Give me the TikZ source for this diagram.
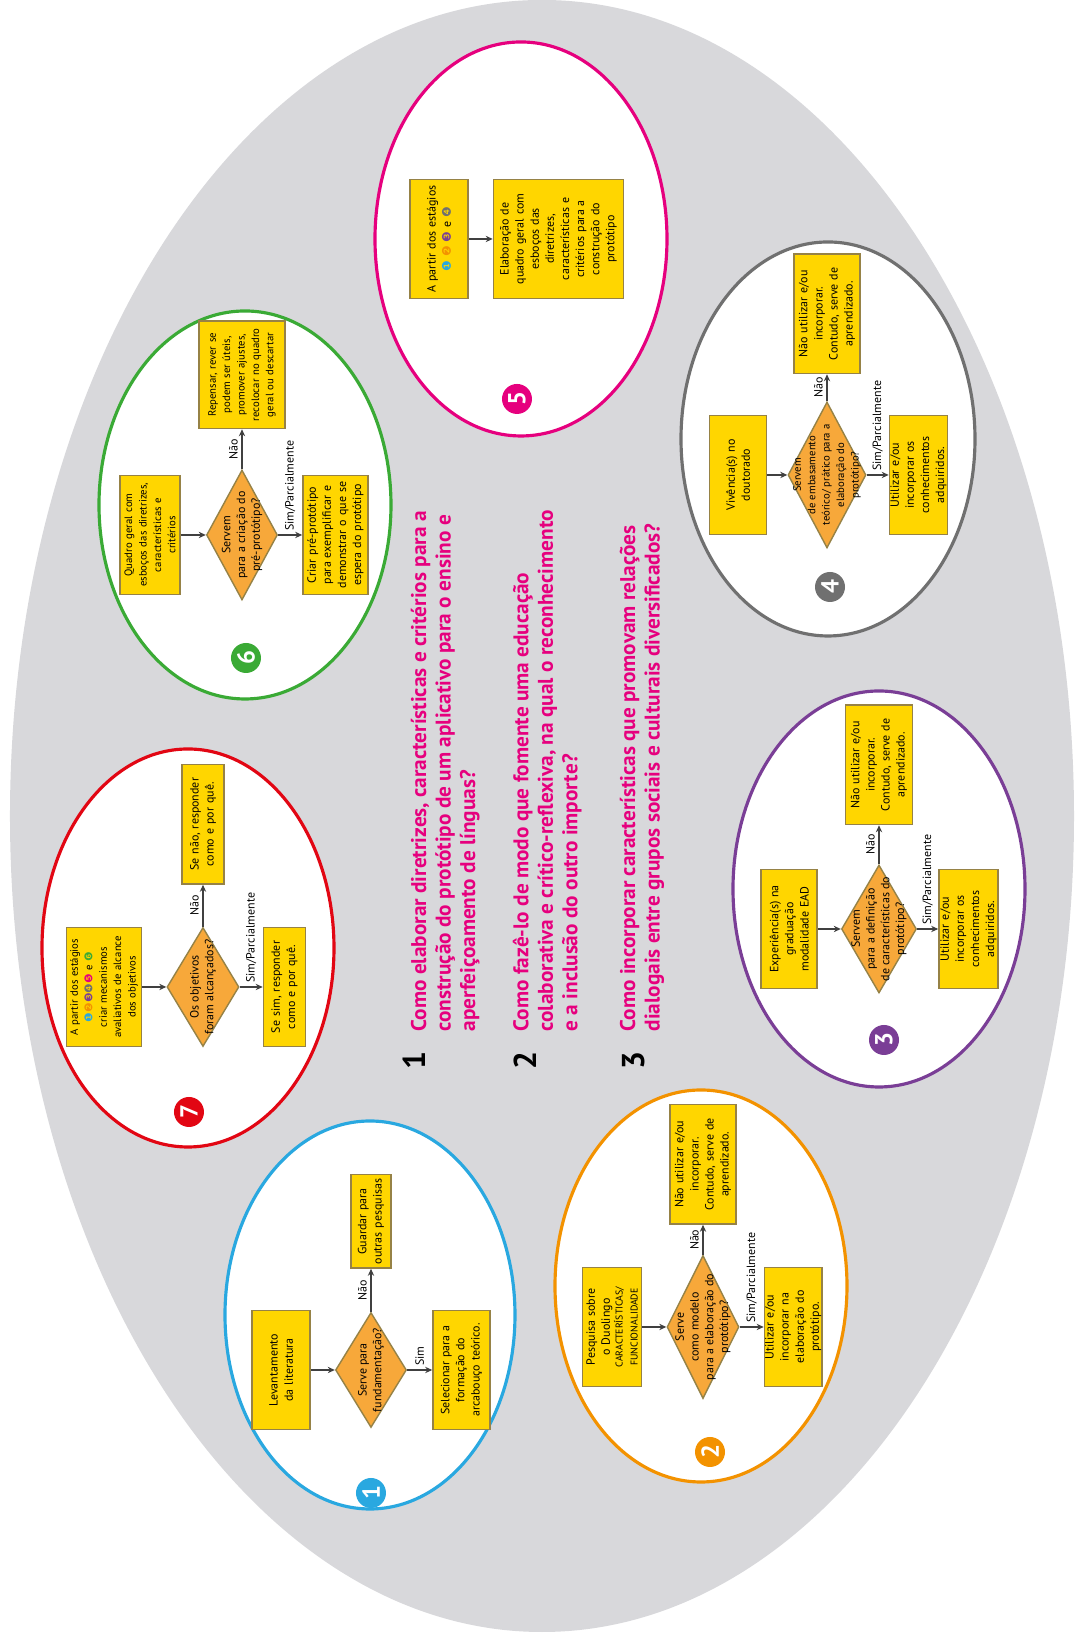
\documentclass[tikz,border=0pt]{standalone}
\usepackage{fontspec}
\setmainfont{PT Sans}
\newfontfamily\dejavu{DejaVu Sans}
\usepackage{xcolor}
\usepackage{tikz}
\usetikzlibrary{shapes.geometric, arrows.meta, positioning}
\definecolor{fundo}{RGB}{216,216,219}
\definecolor{caixa}{RGB}{255,214,0}
\definecolor{borda}{RGB}{150,130,70}
\definecolor{losango}{RGB}{247,168,58}
\definecolor{azul}{RGB}{41,168,224}
\definecolor{laranja}{RGB}{243,146,0}
\definecolor{roxo}{RGB}{122,62,150}
\definecolor{cinza}{RGB}{112,112,112}
\definecolor{rosa}{RGB}{230,0,126}
\definecolor{verde}{RGB}{58,170,53}
\definecolor{vermelho}{RGB}{226,6,19}
\tikzset{
  etapa/.style={
    rectangle, draw=borda, line width=0.4pt, fill=caixa,
    text width=1.18cm, align=center, inner sep=0.2pt,
    font=\fontsize{3.4}{4.3}\selectfont
  },
  decisao/.style={
    diamond, aspect=2, draw=borda, line width=0.4pt, fill=losango,
    align=center, inner sep=-0.3cm, font=\fontsize{3.4}{4.2}\selectfont
  },
  seta/.style={-{Stealth[length=2pt,width=1.8pt]}, draw=black!75, line width=0.35pt},
  rot/.style={inner sep=1pt, font=\fontsize{3.4}{4.2}\selectfont},
  selo/.style={
    circle, fill=#1, text=white, minimum size=0.30cm, inner sep=0pt,
    font=\bfseries\fontsize{7}{7}\selectfont
  },
  anel/.style={draw=#1, line width=0.9pt, fill=white},
  pergunta/.style={
    text=rosa, align=left, inner sep=0pt,
    font=\bfseries\fontsize{6.05}{7}\selectfont
  },
  numq/.style={inner sep=0pt, font=\bfseries\fontsize{9}{9}\selectfont},
  miudo/.style={font=\fontsize{3.05}{4.1}\selectfont}
}

\begin{document}
\begin{tikzpicture}
\fill[white] (-10.78,0) rectangle (0,16.35);
\useasboundingbox (-10.78,0) rectangle (0,16.35);
\begin{scope}[rotate=90, transform shape]

% Background and stage rings
\fill[fundo] (8.19,5.36) ellipse [x radius=8.16, y radius=5.32];
\draw[anel=azul]     (3.20,7.08)  ellipse [x radius=1.94, y radius=1.45];
\draw[anel=laranja]  (3.49,3.77)  ellipse [x radius=1.96, y radius=1.46];
\draw[anel=roxo]     (7.46,1.99)  ellipse [x radius=1.98, y radius=1.46];
\draw[anel=cinza]    (11.96,2.50) ellipse [x radius=1.97, y radius=1.47];
\draw[anel=rosa]     (13.96,5.57) ellipse [x radius=1.97, y radius=1.46];
\draw[anel=verde]    (11.30,8.33) ellipse [x radius=1.94, y radius=1.46];
\draw[anel=vermelho] (6.87,8.90)  ellipse [x radius=1.99, y radius=1.46];

% Stage 1
\node[decisao, minimum width=1.15cm, minimum height=0.71cm] (d1) at (2.65,7.07) {Serve para\\fundamentação?};
\node[etapa, minimum height=0.58cm, above=0.24cm of d1] (s1) {Levantamento\\da literatura};
\node[etapa, minimum height=0.57cm, below=0.25cm of d1] (r1) {Selecionar para a\\formação do\\arcabouço teórico.};
\node[etapa, text width=0.92cm, minimum height=0.40cm, right=0.43cm of d1] (n1) {Guardar para\\outras pesquisas};
\node[selo=azul] (b1) at (1.42,7.07) {1};
\draw[seta] (s1) -- (d1);
\draw[seta] (d1) -- node[rot, right] {Sim} (r1);
\draw[seta] (d1) -- node[rot, above] {Não} (n1);

% Stage 2
\node[decisao, minimum width=1.43cm, minimum height=0.72cm] (d2) at (3.08,3.75) {Serve\\como modelo\\para a elaboração do\\protótipo?};
\node[etapa, minimum height=0.59cm, above=0.24cm of d2] (s2) {Pesquisa sobre\\o Duolingo\\{\fontsize{2.8}{3.6}\selectfont CARACTERÍSTICAS/\\FUNCIONALIDADE}};
\node[etapa, minimum height=0.56cm, below=0.24cm of d2] (r2) {Utilizar e/ou\\incorporar na\\elaboração do\\protótipo.};
\node[etapa, minimum height=0.66cm, right=0.30cm of d2] (n2) {Não utilizar e/ou\\incorporar.\\Contudo, serve de\\aprendizado.};
\node[selo=laranja] (b2) at (1.83,3.68) {2};
\draw[seta] (s2) -- (d2);
\draw[seta] (d2) -- node[rot, right] {Sim/Parcialmente} (r2);
\draw[seta] (d2) -- node[rot, above] {Não} (n2);

% Stage 3
\node[decisao, minimum width=1.28cm, minimum height=0.75cm] (d3) at (7.06,1.99) {Servem\\para a definição\\de características do\\protótipo?};
\node[etapa, minimum height=0.56cm, above=0.23cm of d3] (s3) {Experiência(s) na\\graduação\\modalidade EAD};
\node[etapa, minimum height=0.59cm, below=0.21cm of d3] (r3) {Utilizar e/ou\\incorporar os\\conhecimentos\\adquiridos.};
\node[etapa, minimum height=0.67cm, right=0.39cm of d3] (n3) {Não utilizar e/ou\\incorporar.\\Contudo, serve de\\aprendizado.};
\node[selo=roxo] (b3) at (5.95,1.94) {3};
\draw[seta] (s3) -- (d3);
\draw[seta] (d3) -- node[rot, right] {Sim/Parcialmente} (r3);
\draw[seta] (d3) -- node[rot, above] {Não} (n3);

% Stage 4
\node[decisao, minimum width=1.46cm, minimum height=0.78cm, miudo] (d4) at (11.60,2.51) {Servem\\de embasamento\\teórico/ prático para a\\elaboração do\\protótipo?};
\node[etapa, minimum height=0.57cm, above=0.20cm of d4] (s4) {Vivência(s) no\\doutorado};
\node[etapa, minimum height=0.58cm, below=0.22cm of d4] (r4) {Utilizar e/ou\\incorporar os\\conhecimentos\\adquiridos.};
\node[etapa, minimum height=0.66cm, right=0.27cm of d4] (n4) {Não utilizar e/ou\\incorporar.\\Contudo, serve de\\aprendizado.};
\node[selo=cinza] (b4) at (10.48,2.48) {4};
\draw[seta] (s4) -- (d4);
\draw[seta] (d4) -- node[rot, right] {Sim/Parcialmente} (r4);
\draw[seta] (d4) -- node[rot, above] {Não} (n4);

% Stage 5
\node[etapa, minimum height=0.58cm] (s5) at (13.96,6.39) {A partir dos estágios\\{\dejavu\textcolor{azul}{❶} \textcolor{laranja}{❷} \textcolor{roxo}{❸}} e {\dejavu\textcolor{cinza}{❹}}};
\node[etapa, minimum height=1.30cm, below=0.24cm of s5] (r5) {Elaboração de\\quadro geral com\\esboços das\\diretrizes,\\características e\\critérios para a\\construção do\\protótipo};
\node[selo=rosa] (b5) at (12.36,5.61) {5};
\draw[seta] (s5) -- (r5);

% Stage 6
\node[decisao, minimum width=1.30cm, minimum height=0.71cm] (d6) at (11.00,8.36) {Servem\\para a criação do\\pré-protótipo?};
\node[etapa, miudo, minimum height=0.60cm, above=0.25cm of d6] (s6) {Quadro geral com\\esboços das diretrizes,\\características e\\critérios};
\node[etapa, minimum height=0.65cm, below=0.24cm of d6] (r6) {Criar pré-protótipo\\para exemplificar e\\demonstrar o que se\\espera do protótipo};
\node[etapa, miudo, text width=1.06cm, minimum height=0.86cm, right=0.40cm of d6] (n6) {Repensar, rever se\\podem ser úteis,\\promover ajustes,\\recolocar no quadro\\geral ou descartar};
\node[selo=verde] (b6) at (9.77,8.32) {6};
\draw[seta] (s6) -- (d6);
\draw[seta] (d6) -- node[rot, right] {Sim/Parcialmente} (r6);
\draw[seta] (d6) -- node[rot, above] {Não} (n6);

% Stage 7
\node[decisao, minimum width=1.19cm, minimum height=0.72cm] (d7) at (6.48,8.75) {Os objetivos\\foram alcançados?};
\node[etapa, miudo, minimum height=0.75cm, above=0.24cm of d7] (s7) {A partir dos estágios\\{\dejavu\textcolor{azul}{❶}\textcolor{laranja}{❷}\textcolor{roxo}{❸}\textcolor{cinza}{❹}\textcolor{rosa}{❺}} e {\dejavu\textcolor{verde}{❻}}\\criar mecanismos\\avaliativos de alcance\\dos objetivos};
\node[etapa, minimum height=0.42cm, below=0.23cm of d7] (r7) {Se sim, responder\\como e por quê.};
\node[etapa, minimum height=0.42cm, right=0.42cm of d7] (n7) {Se não, responder\\como e por quê.};
\node[selo=vermelho] (b7) at (5.23,8.89) {7};
\draw[seta] (s7) -- (d7);
\draw[seta] (d7) -- node[rot, right] {Sim/Parcialmente} (r7);
\draw[seta] (d7) -- node[rot, above] {Não} (n7);

% Research questions
\node[numq] (k1) at (5.74,6.64) {1};
\node[pergunta, anchor=north west] (q1) at (6.03,6.68) {Como elaborar diretrizes, características e critérios para a\\construção do protótipo de um aplicativo para o ensino e\\aperfeiçoamento de línguas?};
\node[numq] (k2) at (5.74,5.53) {2};
\node[pergunta, anchor=north west] (q2) at (6.03,5.66) {Como fazê-lo de modo que fomente uma educação\\colaborativa e crítico-reflexiva, na qual o reconhecimento\\e a inclusão do outro importe?};
\node[numq] (k3) at (5.74,4.44) {3};
\node[pergunta, anchor=north west] (q3) at (6.03,4.59) {Como incorporar características que promovam relações\\dialogais entre grupos sociais e culturais diversificados?};

\end{scope}
\end{tikzpicture}
\end{document}
